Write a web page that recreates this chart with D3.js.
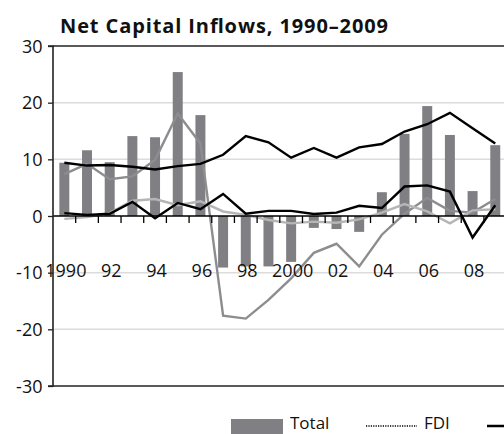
<!DOCTYPE html>
<html>
<head>
<meta charset="utf-8">
<script src="https://cdn.jsdelivr.net/npm/d3@7"></script>
<style>
  html, body { margin: 0; padding: 0; background: #fff; }
  svg { display: block; }
  text { font-family: "Open Sans", "Noto Sans", sans-serif; fill: #111; }
</style>
</head>
<body>
<div id="chart"></div>
<script>
// Net capital inflows, per cent of GDP
const years = d3.range(1990, 2010);
const total = [9.4, 11.6, 9.5, 14.1, 13.9, 25.4, 17.8, -9.1, -8.9, -8.9,
               -8.1, -2.1, -2.3, -2.8, 4.2, 14.5, 19.4, 14.3, 4.4, 12.5];
const blackHigh = [9.4, 8.9, 9.0, 8.7, 8.2, 8.8, 9.2, 10.8, 14.1, 13.0,
                   10.3, 12.0, 10.3, 12.1, 12.7, 14.9, 16.2, 18.2, 15.5, 12.8];
const blackLow = [0.5, 0.2, 0.4, 2.5, -0.4, 2.3, 1.2, 3.9, 0.4, 0.9,
                  0.9, 0.35, 0.6, 1.8, 1.4, 5.2, 5.4, 4.3, -3.8, 1.9];
const grayMid = [7.4, 9.2, 6.5, 7.0, 9.9, 18.1, 12.8, -17.6, -18.1, -14.8,
                 -11.0, -6.5, -4.9, -8.9, -3.3, 0.4, 3.2, 0.9, 0.6, 3.0];
const grayLight = [-0.5, -0.2, 0.5, 2.7, 3.0, 1.9, 2.6, 0.8, 0.2, -0.7,
                   -1.3, -1.0, -1.2, -0.6, 0.6, 2.1, 0.8, -1.3, 1.0, 1.2];
const yTicks = [-30, -20, -10, 0, 10, 20, 30];
const xTickLabels = ["1990", "92", "94", "96", "98", "2000", "02", "04", "06", "08"];
const title = "Net Capital Inflows, 1990\u20132009";
const legendItems = ["Total", "FDI"];

const W = 504, H = 434;
const plotLeft = 53, plotRight = 506.6, plotTop = 46, plotBottom = 386;

const svg = d3.select("#chart").append("svg")
  .attr("width", W).attr("height", H);

const x = d3.scaleBand().domain(years).range([plotLeft, plotRight]).paddingInner(0.56).paddingOuter(0.28);
const xs = d3.scaleBand().domain(years).range([plotLeft, plotRight]);
const y = d3.scaleLinear().domain([-30, 30]).range([plotBottom, plotTop]);
const cx = yr => xs(yr) + xs.bandwidth() / 2;

// title
svg.append("text")
  .attr("x", 60).attr("y", 33)
  .attr("textLength", 328).attr("lengthAdjust", "spacing")
  .style("font-weight", "700").style("font-size", "20px")
  .text(title);

// gridlines
svg.append("g").selectAll("line")
  .data(yTicks.filter(t => t !== 0 && Math.abs(t) !== 30))
  .join("line")
  .attr("x1", plotLeft).attr("x2", W)
  .attr("y1", d => y(d)).attr("y2", d => y(d))
  .attr("stroke", "#dcdcdc").attr("stroke-width", 1.5);

// frame: top and bottom rules
svg.append("line").attr("x1", plotLeft).attr("x2", W)
  .attr("y1", y(30)).attr("y2", y(30)).attr("stroke", "#222").attr("stroke-width", 1.3);
svg.append("line").attr("x1", plotLeft).attr("x2", W)
  .attr("y1", y(-30)).attr("y2", y(-30)).attr("stroke", "#222").attr("stroke-width", 1.3);

// bars
svg.append("g").selectAll("rect")
  .data(years)
  .join("rect")
  .attr("x", d => x(d))
  .attr("width", x.bandwidth())
  .attr("y", (d, i) => y(Math.max(0, total[i])))
  .attr("height", (d, i) => Math.abs(y(total[i]) - y(0)))
  .attr("fill", "#808084");

// lines
const line = d3.line().x((d, i) => cx(years[i])).y(d => y(d));
const series = [
  { values: grayMid, color: "#8d8d8f" },
  { values: grayLight, color: "#b5b5b5" },
  { values: blackLow, color: "#000" },
  { values: blackHigh, color: "#000" }
];
svg.append("g").selectAll("path")
  .data(series)
  .join("path")
  .attr("d", d => line(d.values))
  .attr("fill", "none")
  .attr("stroke", d => d.color)
  .attr("stroke-width", 2.4)
  .attr("stroke-linejoin", "miter");

// x axis at zero with ticks on band boundaries
const xAxis = svg.append("g");
xAxis.append("line").attr("x1", plotLeft).attr("x2", W)
  .attr("y1", y(0)).attr("y2", y(0)).attr("stroke", "#000").attr("stroke-width", 1.6);
xAxis.selectAll("line.tick")
  .data(years.slice(1))
  .join("line").attr("class", "tick")
  .attr("x1", d => xs(d)).attr("x2", d => xs(d))
  .attr("y1", y(0)).attr("y2", y(0) + 7)
  .attr("stroke", "#000").attr("stroke-width", 1.3);
xAxis.selectAll("text.xlabel")
  .data(xTickLabels)
  .join("text").attr("class", "xlabel")
  .attr("x", (d, i) => cx(years[i * 2]) + 1.5)
  .attr("y", 277)
  .attr("text-anchor", "middle")
  .style("font-size", "18px")
  .text(d => d);

// y axis line and ticks
const yAxis = svg.append("g")
  .attr("transform", `translate(${plotLeft},0)`)
  .call(d3.axisLeft(y).tickValues(yTicks).tickSize(5).tickFormat(""));
yAxis.select(".domain").attr("stroke", "#222").attr("stroke-width", 1.6).attr("d", `M-5,${y(30)}H0V${y(-30)}H-5`);
yAxis.selectAll(".tick line").attr("stroke", "#222").attr("stroke-width", 1.3);

// legend
const lg = svg.append("g");
lg.append("rect").attr("x", 231).attr("y", 419).attr("width", 52).attr("height", 20).attr("fill", "#808084");
lg.append("text").attr("x", 290).attr("y", 429).style("font-size", "17px").text(legendItems[0]);
lg.append("line").attr("x1", 366).attr("x2", 417).attr("y1", 426).attr("y2", 426)
  .attr("stroke", "#000").attr("stroke-width", 1.6).attr("stroke-dasharray", "1.2,1.2");
lg.append("text").attr("x", 424).attr("y", 429).style("font-size", "17px").text(legendItems[1]);
lg.append("line").attr("x1", 487).attr("x2", 520).attr("y1", 426).attr("y2", 426)
  .attr("stroke", "#000").attr("stroke-width", 2.4);

// y tick labels, drawn last so nothing sits over them
svg.append("g").selectAll("text.ylabel")
  .data(yTicks)
  .join("text").attr("class", "ylabel")
  .attr("x", 42.5)
  .attr("y", d => y(d) + 6.5)
  .attr("text-anchor", "end")
  .style("font-size", "18px")
  .style("fill", "#111")
  .text(d => d < 0 ? "-" + Math.abs(d) : String(d));
</script>
</body>
</html>
